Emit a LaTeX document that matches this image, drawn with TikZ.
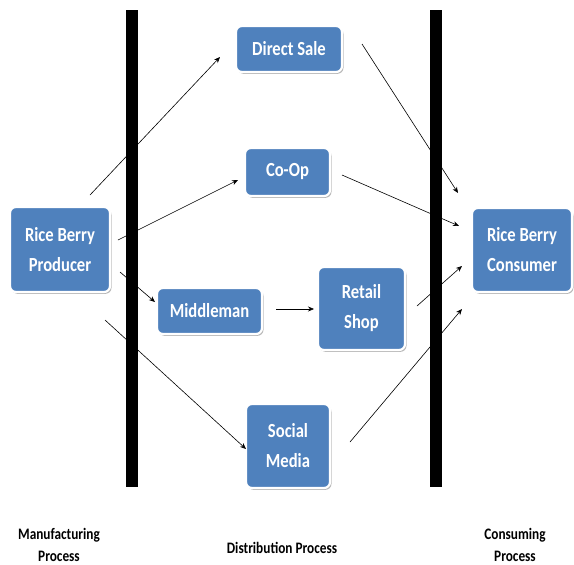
\documentclass[tikz,border=0pt]{standalone}
\usepackage{fontspec}
\setmainfont{Carlito}
\newfontfamily\narrowfont[FakeStretch=0.83]{Carlito}
\usetikzlibrary{shadows,arrows.meta}
\definecolor{boxblue}{HTML}{4F81BD}
\tikzset{
  box/.style={draw=white, line width=2.2pt, fill=boxblue, rounded corners=6pt,
    text=white, font=\narrowfont\bfseries\fontsize{20}{30}\selectfont, align=center,
    inner sep=0pt,
    drop shadow={shadow xshift=1.5pt, shadow yshift=-1.8pt, fill=black!35, opacity=0.8}},
  bar/.style={fill=black},
  conn/.style={-{Stealth[length=6pt,width=5pt]}, line width=0.6pt},
  lbl/.style={font=\narrowfont\bfseries\fontsize{16}{22}\selectfont, align=center}
}
\begin{document}
\begin{tikzpicture}[x=1pt,y=-1pt]
\useasboundingbox (0,0) rectangle (574,565);
% bars
\fill[bar] (126,10) rectangle (138,487);
\fill[bar] (430,10) rectangle (442,487);
% boxes
\node[box, minimum width=100pt, minimum height=85pt] (prod) at (60,249.5) {Rice Berry\\Producer};
\node[box, minimum width=106pt, minimum height=46pt] (direct) at (289,49) {Direct Sale};
\node[box, minimum width=85pt, minimum height=48pt] (coop) at (287.5,172) {Co-Op};
\node[box, minimum width=105pt, minimum height=46pt] (middle) at (209.5,311) {Middleman};
\node[box, minimum width=87pt, minimum height=83pt] (retail) at (361.5,308.5) {Retail\\Shop};
\node[box, minimum width=84pt, minimum height=84pt] (social) at (288,446) {Social\\Media};
\node[box, minimum width=100pt, minimum height=84pt] (cons) at (522,250) {Rice Berry\\Consumer};
% connector endpoints
\coordinate (p1) at (90,195);   \coordinate (d1) at (220,57);
\coordinate (p2) at (118,240);  \coordinate (c1) at (238,180);
\coordinate (p3) at (120,272);  \coordinate (m1) at (155,302);
\coordinate (p4) at (105,320);  \coordinate (s1) at (246,449);
\coordinate (m2) at (276,309);  \coordinate (r1) at (314,309);
\coordinate (d2) at (362,44);   \coordinate (k1) at (458,193);
\coordinate (c2) at (342,175);  \coordinate (k2) at (459,226);
\coordinate (r2) at (417,306);  \coordinate (k3) at (462,266);
\coordinate (s2) at (350,442);  \coordinate (k4) at (462,309);
\draw[conn] (p1) -- (d1);
\draw[conn] (p2) -- (c1);
\draw[conn] (p3) -- (m1);
\draw[conn] (p4) -- (s1);
\draw[conn] (m2) -- (r1);
\draw[conn] (d2) -- (k1);
\draw[conn] (c2) -- (k2);
\draw[conn] (r2) -- (k3);
\draw[conn] (s2) -- (k4);
% labels
\node[lbl] (manu) at (59,545) {Manufacturing\\Process};
\node[lbl] (dist) at (282,548) {Distribution Process};
\node[lbl] (consp) at (515,545) {Consuming\\Process};
\end{tikzpicture}
\end{document}
